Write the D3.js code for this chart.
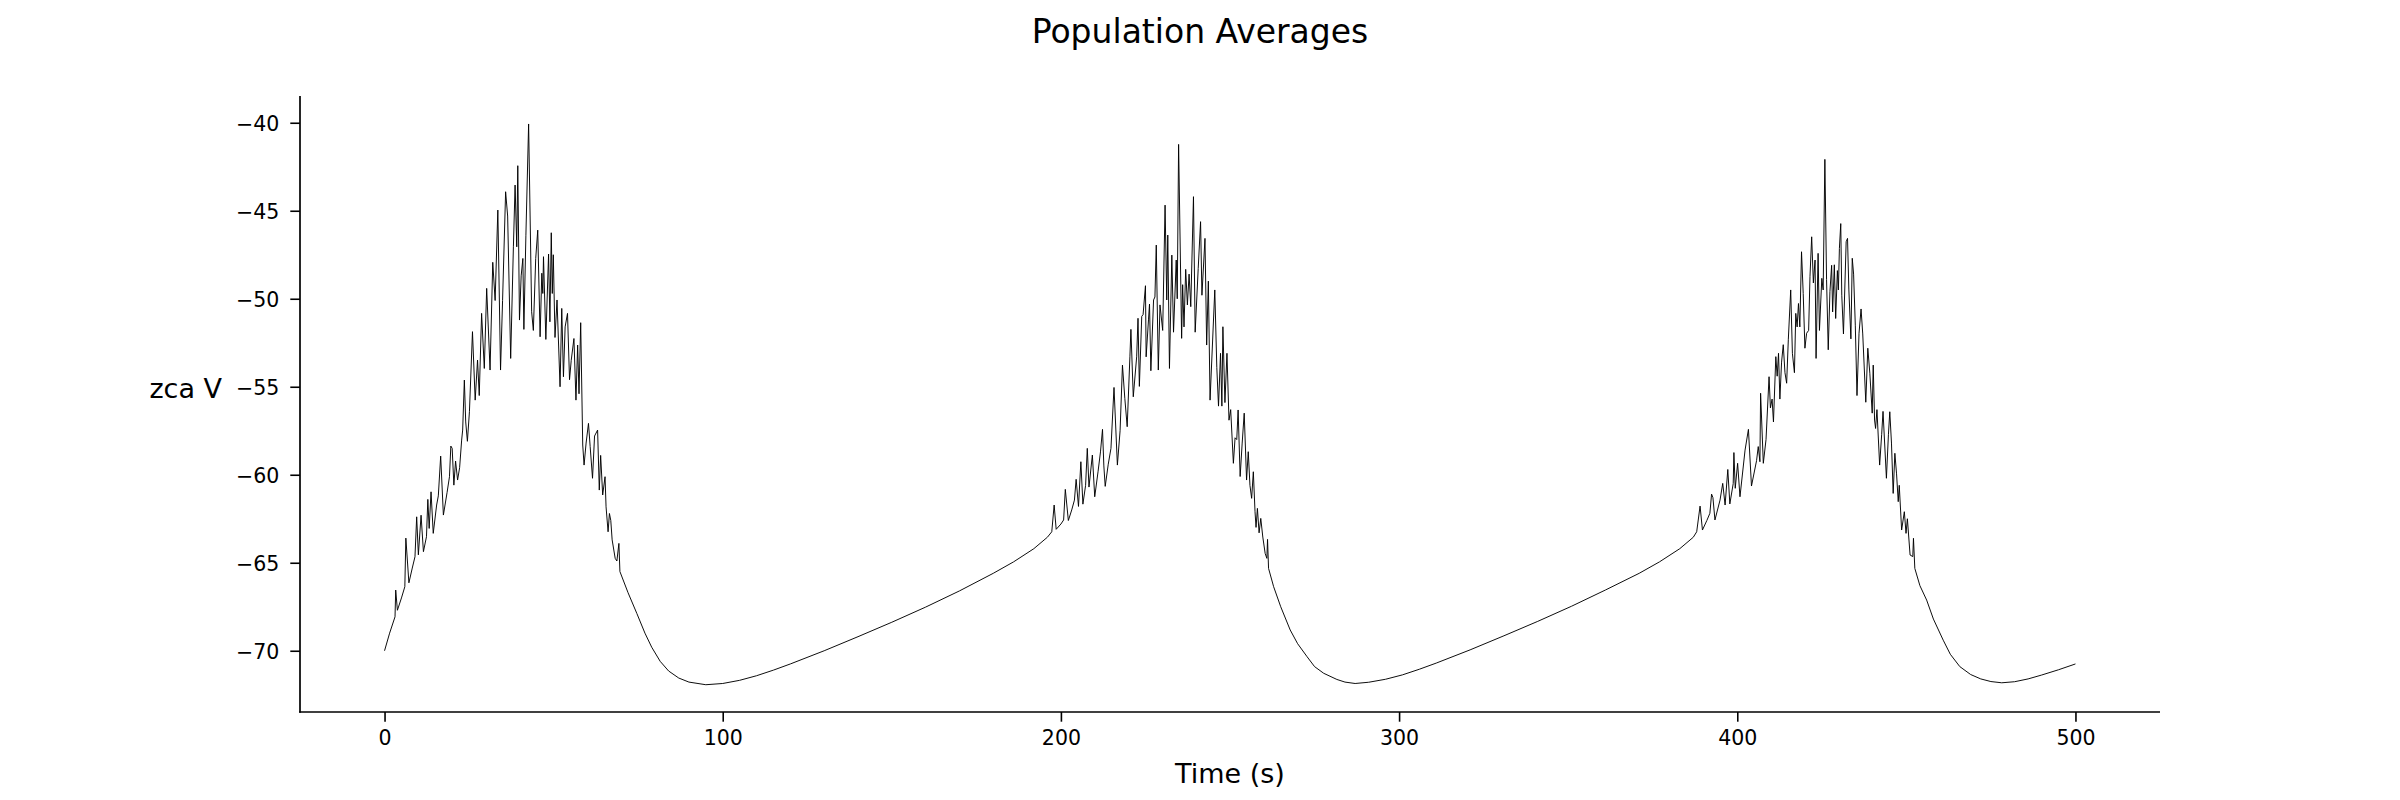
<!DOCTYPE html>
<html>
<head>
<meta charset="utf-8">
<script src="https://cdn.jsdelivr.net/npm/d3@7"></script>
<style>
  html, body { margin: 0; padding: 0; background: #fff; }
  svg { display: block; font-family: "DejaVu Sans", sans-serif; }
</style>
</head>
<body>
<svg id="chart" width="2400" height="800"></svg>
<script>
// ---- Data: [time (s), zca V] ----
const burst1 = [
  [0,-70.0],[1.5,-69.0],[3.1,-68.07],[3.3,-66.55],[3.8,-67.7],[5.0,-67.0],[6.0,-66.36],[6.3,-63.6],
  [7.2,-66.14],[8.2,-65.3],[9.0,-64.66],[9.5,-62.39],[10.0,-64.55],[10.8,-62.3],[11.5,-64.37],
  [12.4,-63.52],[12.8,-61.4],[13.2,-63.05],[13.75,-60.97],[14.4,-63.33],[15.4,-61.72],[15.9,-61.2],
  [16.6,-58.94],[17.4,-62.29],[18.5,-61.0],[19.2,-60.11],[19.6,-58.37],[20.0,-58.5],[20.5,-60.59],
  [21.0,-59.22],[21.6,-60.3],[22.2,-59.6],[22.8,-58.03],[23.1,-57.46],[23.6,-54.62],[24.0,-57.0],
  [24.5,-58.1],[25.1,-56.42],[26.0,-51.87],[26.8,-55.76],[27.5,-53.48],[28.0,-55.5],[28.7,-50.83],
  [29.5,-53.96],[30.2,-49.41],[31.2,-54.05],[32.0,-47.93],[32.7,-50.1],[33.5,-44.96],[34.3,-54.05],
  [34.9,-50.1],[35.8,-43.92],[36.4,-45.3],[37.3,-53.39],[38.1,-47.05],[38.6,-43.54],[39.1,-47.05],
  [39.4,-42.44],[39.9,-51.21],[40.4,-48.7],[40.9,-47.71],[41.2,-51.74],[41.8,-46.39],[42.6,-40.07],
  [43.5,-50.74],[44.0,-51.8],[44.7,-47.71],[45.3,-46.1],[46.0,-52.16],[46.5,-48.55],[46.8,-49.7],
  [47.0,-47.61],[47.7,-52.31],[48.5,-47.46],[48.9,-51.31],[49.3,-46.25],[49.6,-49.7],[49.9,-47.5],
  [50.4,-52.2],[51.0,-50.07],[51.9,-55.0],[52.4,-50.55],[52.9,-54.43],[53.4,-51.6],[54.1,-50.83],
  [54.7,-54.6],[55.2,-53.5],[56.0,-52.26],[56.6,-55.76],[57.1,-52.63],[57.5,-55.4],[58.0,-51.36],
  [58.6,-58.31],[59.0,-59.45],[59.6,-58.2],[60.3,-57.08],[60.8,-58.4],[61.5,-60.2],[62.1,-57.8],
  [63.0,-57.46],[63.5,-60.87],[63.9,-58.9],[64.5,-61.15],[65.2,-60.11],[65.5,-61.82],[66.1,-63.24],
  [66.5,-62.2],[66.9,-62.6],[67.3,-63.7],[68.2,-64.75],[68.7,-64.9],[69.3,-63.9],[69.6,-65.5]
];
const recovery1 = [
  [72,-66.7],[74.6,-67.88],[77,-69.0],[79,-69.8],[81.5,-70.6],[84,-71.15],[87,-71.55],[90,-71.78],
  [95,-71.93],[100,-71.86],[105,-71.68],[110,-71.42],[115,-71.1],[120,-70.75],[130,-70.0],
  [140,-69.2],[150,-68.38],[160,-67.52],[170,-66.6],[180,-65.6],[186,-64.95],[192,-64.2],[196,-63.55]
];
const burst2 = [
  [197.3,-63.24],[198.0,-61.72],[198.6,-63.1],[200.0,-62.8],[200.8,-62.57],[201.3,-60.83],[202.2,-62.6],
  [203.2,-62.0],[204.0,-61.44],[204.5,-60.26],[205.2,-61.8],[205.9,-59.26],[206.5,-61.67],[207.3,-60.6],
  [207.8,-58.5],[208.3,-60.7],[209.3,-58.88],[210.0,-61.25],[211.0,-59.8],[211.7,-58.7],[212.3,-57.42],
  [212.7,-59.5],[213.1,-60.66],[214.0,-59.4],[214.8,-58.5],[215.7,-55.04],[216.7,-59.45],[217.5,-57.5],
  [218.2,-53.77],[218.9,-55.66],[219.6,-57.27],[220.4,-53.3],[220.7,-51.74],[221.4,-55.57],[222.4,-53.3],
  [222.8,-51.11],[223.2,-54.98],[223.9,-51.0],[224.3,-50.9],[225.0,-49.26],[225.2,-53.3],[225.9,-51.2],
  [226.2,-50.3],[226.6,-54.09],[227.4,-50.07],[227.8,-49.9],[228.2,-46.95],[228.8,-54.05],[229.3,-50.35],
  [230.1,-51.8],[230.8,-44.68],[231.3,-50.07],[231.6,-46.38],[232.1,-53.96],[232.8,-47.52],[233.3,-51.9],
  [234.1,-47.8],[234.4,-50.0],[234.8,-41.23],[235.7,-52.25],[236.0,-49.2],[236.4,-51.6],[236.9,-48.33],
  [237.4,-50.35],[237.9,-48.6],[238.4,-50.45],[239.2,-44.2],[239.7,-51.9],[240.6,-48.28],[241.3,-45.62],
  [241.7,-49.8],[242.6,-46.57],[243.1,-52.63],[243.6,-49.0],[244.1,-55.76],[245.5,-49.5],[246.1,-53.9],
  [246.6,-56.1],[247.2,-53.1],[247.6,-56.1],[247.9,-51.59],[248.5,-55.9],[249.1,-53.1],[249.7,-56.9],
  [250.2,-56.3],[251.0,-59.35],[251.5,-57.9],[252.0,-58.0],[252.4,-56.32],[253.0,-60.1],[253.6,-58.2],
  [254.2,-56.5],[254.9,-60.3],[255.4,-58.69],[255.9,-60.6],[256.4,-61.34],[256.9,-59.83],[257.4,-62.1],
  [257.7,-62.99],[258.1,-61.91],[258.6,-63.3],[259.1,-62.48],[259.7,-63.54],[260.4,-64.47],[260.9,-64.75],
  [261.1,-63.67],[261.4,-65.32]
];
const recovery2 = [
  [262.9,-66.36],[265,-67.5],[267.8,-68.82],[270,-69.6],[272.8,-70.34],[275,-70.9],[277.7,-71.28],
  [281.6,-71.63],[284,-71.78],[287,-71.86],[291,-71.79],[296,-71.62],[301,-71.37],[306,-71.05],
  [311,-70.7],[321,-69.95],[331,-69.15],[341,-68.33],[351,-67.47],[361,-66.55],[371,-65.6],
  [377,-64.95],[383,-64.2],[387,-63.55]
];
const burst3 = [
  [388.0,-63.24],[389.0,-61.78],[389.7,-63.14],[391.0,-62.6],[391.9,-62.19],[392.4,-61.1],[392.8,-61.3],
  [393.4,-62.57],[394.9,-61.44],[395.7,-60.49],[396.4,-61.72],[397.2,-59.7],[397.8,-61.66],[398.8,-60.5],
  [399.0,-58.74],[399.4,-60.77],[400.1,-59.35],[400.8,-61.25],[402.3,-58.6],[403.3,-57.42],[404.2,-60.64],
  [405.7,-59.2],[406.2,-58.4],[406.7,-59.26],[406.9,-55.37],[407.7,-59.35],[408.5,-58.0],[409.4,-54.43],
  [409.8,-56.2],[410.3,-55.7],[410.7,-57.0],[411.4,-53.29],[411.8,-54.4],[412.2,-53.1],[412.6,-55.7],
  [413.1,-53.6],[413.6,-52.61],[414.1,-54.2],[414.6,-54.8],[415.1,-52.3],[415.8,-49.5],[416.3,-53.1],
  [416.9,-54.2],[417.3,-50.83],[417.7,-51.6],[418.1,-50.27],[418.5,-51.6],[419.0,-47.33],[419.5,-49.7],
  [420.0,-52.81],[420.5,-51.96],[421.1,-51.8],[421.5,-48.75],[422.0,-46.48],[422.5,-49.1],[423.0,-47.8],
  [423.3,-53.39],[423.9,-47.42],[424.3,-51.8],[425.0,-48.84],[425.4,-49.5],[425.9,-42.08],[426.4,-48.9],
  [426.9,-52.9],[427.4,-49.6],[427.9,-48.1],[428.2,-50.75],[428.7,-48.07],[429.1,-51.12],[429.6,-48.4],
  [429.9,-49.5],[430.2,-47.14],[430.6,-45.73],[430.9,-49.8],[431.4,-52.0],[432.2,-46.76],[432.6,-46.57],
  [433.0,-49.5],[433.6,-52.28],[434.0,-47.7],[434.4,-48.6],[434.9,-51.5],[435.4,-55.5],[436.0,-51.96],
  [436.6,-50.58],[437.1,-52.0],[438.0,-55.88],[438.6,-52.81],[439.2,-54.23],[439.9,-56.5],[440.2,-53.77],
  [440.6,-56.89],[440.9,-57.37],[441.3,-56.3],[442.1,-59.45],[442.7,-57.7],[443.1,-56.4],[444.1,-60.2],
  [444.7,-57.7],[445.1,-56.42],[445.6,-58.2],[446.1,-61.06],[446.6,-58.78],[447.1,-59.95],[447.6,-61.53],
  [447.9,-60.6],[448.6,-63.14],[449.4,-62.1],[449.9,-63.33],[450.3,-62.5],[451.1,-64.56],[451.9,-64.65],
  [452.1,-63.61],[452.5,-65.32]
];
const recovery3 = [
  [454,-66.3],[456,-67.12],[458,-68.2],[460.9,-69.4],[463,-70.2],[465.8,-70.9],[469,-71.35],
  [472,-71.6],[475,-71.75],[478.2,-71.82],[482,-71.76],[486,-71.6],[490,-71.38],[495,-71.08],[500,-70.75]
];
const xTicks = [0, 100, 200, 300, 400, 500];
const yTicks = [-70, -65, -60, -55, -50, -45, -40];
const titleText = "Population Averages";
const xLabel = "Time (s)";
const yLabel = "zca V";

// ---- Layout ----
const svg = d3.select("#chart");
const mLeft = 300, mRight = 2160, mTop = 96, mBottom = 712;
const x = d3.scaleLinear().domain([-25, 525]).range([mLeft, mRight]);
const y = d3.scaleLinear().domain([-73.48, -38.48]).range([mBottom, mTop]);

const series = [].concat(burst1, recovery1, burst2, recovery2, burst3, recovery3);

svg.append("path")
  .datum(series)
  .attr("fill", "none")
  .attr("stroke", "#000")
  .attr("stroke-width", 0.95)
  .attr("stroke-linejoin", "round")
  .attr("d", d3.line().x(d => x(d[0])).y(d => y(d[1])));

// Axes
const fmt = d3.format("d");
const xAxis = d3.axisBottom(x).tickValues(xTicks).tickFormat(fmt).tickSize(9.7).tickPadding(8).tickSizeOuter(0);
const yAxis = d3.axisLeft(y).tickValues(yTicks).tickFormat(fmt).tickSize(9.7).tickPadding(11).tickSizeOuter(0);

const gx = svg.append("g").attr("transform", `translate(0,${mBottom})`).call(xAxis);
const gy = svg.append("g").attr("transform", `translate(${mLeft},0)`).call(yAxis);

[gx, gy].forEach(g => {
  g.select(".domain").remove();
  g.selectAll(".tick line").attr("stroke", "#000").attr("stroke-width", 1.6);
  g.selectAll(".tick text").attr("fill", "#000")
    .style("font-family", "'DejaVu Sans', sans-serif").style("font-size", "20.5px");
});
gx.selectAll(".tick text").attr("dy", null).attr("y", 33);
gy.selectAll(".tick text").attr("dy", "0.36em");

// Spines
svg.append("line").attr("x1", mLeft).attr("x2", mLeft).attr("y1", mTop).attr("y2", mBottom + 0.8)
  .attr("stroke", "#000").attr("stroke-width", 1.7);
svg.append("line").attr("x1", mLeft - 0.8).attr("x2", mRight).attr("y1", mBottom).attr("y2", mBottom)
  .attr("stroke", "#000").attr("stroke-width", 1.7);

// Labels
svg.append("text").attr("x", 1200).attr("y", 43).attr("text-anchor", "middle")
  .style("font-size", "33px").attr("fill", "#000").text(titleText);
svg.append("text").attr("x", (mLeft + mRight) / 2).attr("y", 783).attr("text-anchor", "middle")
  .style("font-size", "27px").attr("fill", "#000").text(xLabel);
svg.append("text").attr("x", 222).attr("y", 398).attr("text-anchor", "end")
  .style("font-size", "27px").attr("fill", "#000").text(yLabel);
</script>
</body>
</html>
